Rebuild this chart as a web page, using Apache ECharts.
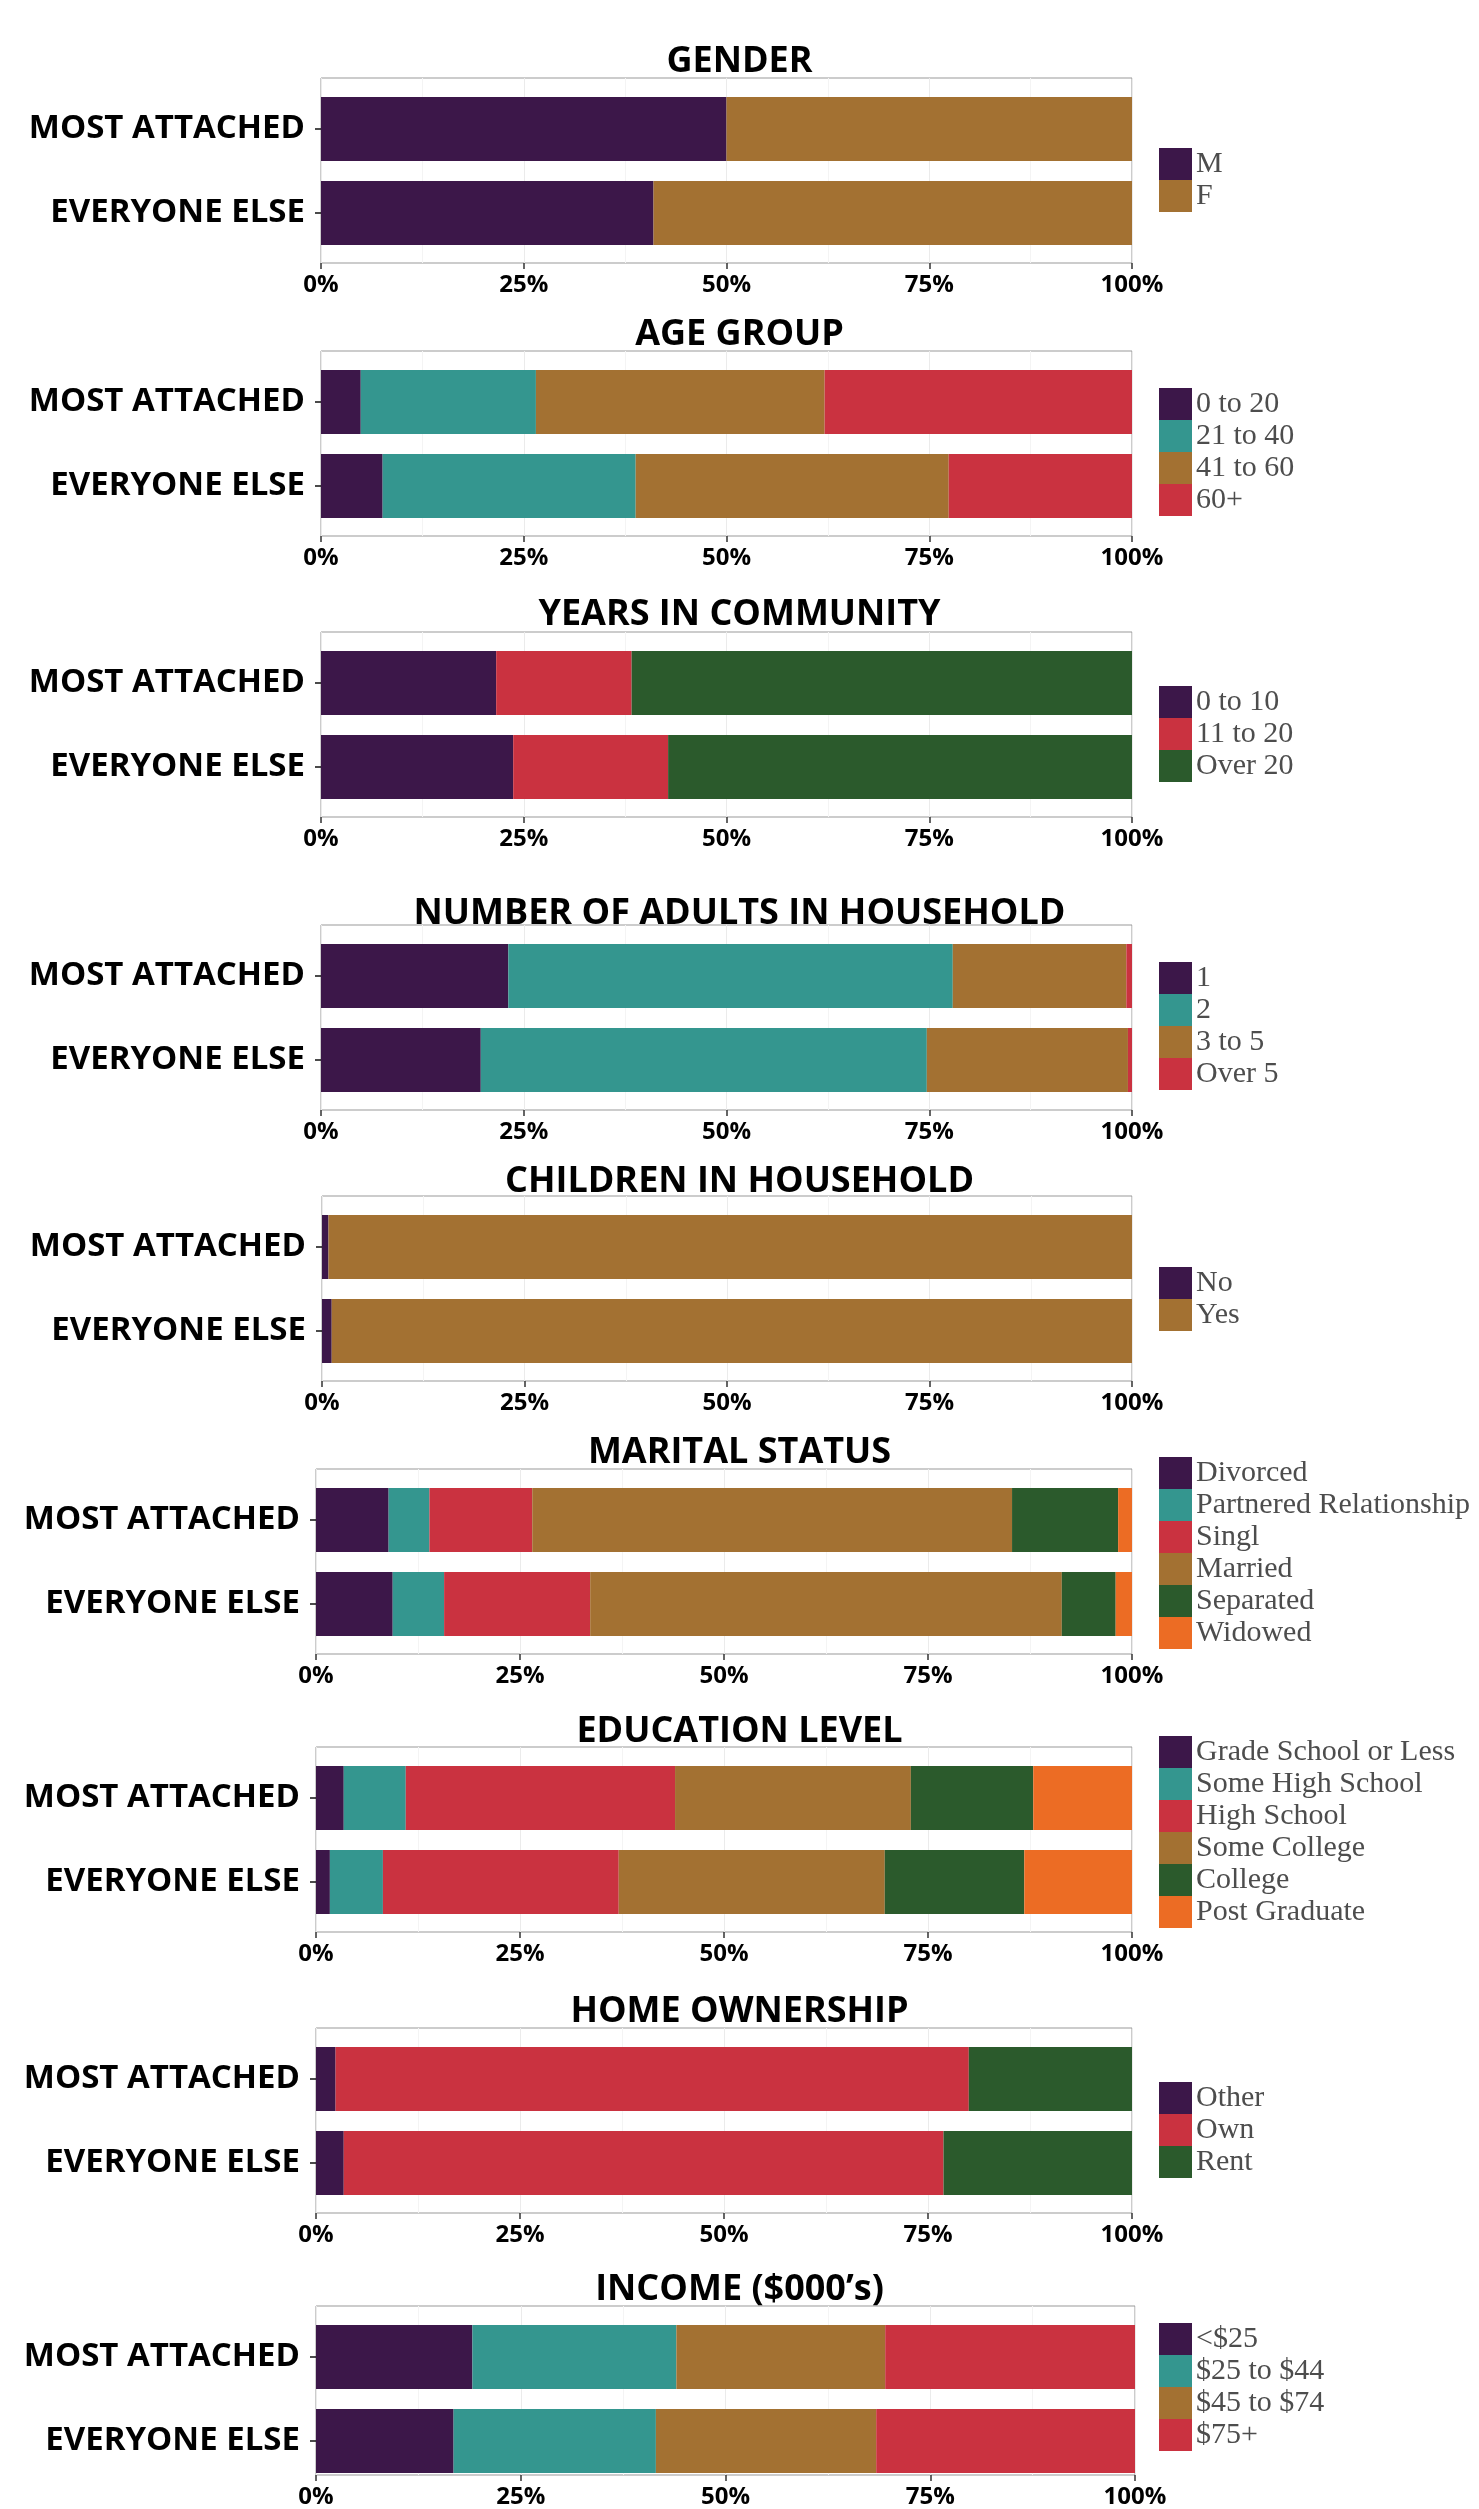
<!DOCTYPE html>
<html>
<head>
<meta charset="utf-8">
<script src="https://cdn.jsdelivr.net/npm/echarts@6/dist/echarts.min.js"></script>
<style>
  html, body { margin: 0; padding: 0; background: #ffffff; }
  #chart { width: 1479px; height: 2509px; }
</style>
</head>
<body>
<div id="chart"></div>
<script>
// Respondent groups (rows of every panel)
const groups = ['MOST ATTACHED', 'EVERYONE ELSE'];
const xTicks = [0, 25, 50, 75, 100];

// Shares (%) per panel: one array per group, in level order
const genderLevels = ['M', 'F'];
const genderMost = [50.0, 50.0];
const genderElse = [41.0, 59.0];

const ageLevels = ['0 to 20', '21 to 40', '41 to 60', '60+'];
const ageMost = [4.9, 21.6, 35.6, 37.9];
const ageElse = [7.6, 31.2, 38.6, 22.6];

const yearsLevels = ['0 to 10', '11 to 20', 'Over 20'];
const yearsMost = [21.6, 16.7, 61.7];
const yearsElse = [23.7, 19.1, 57.2];

const adultsLevels = ['1', '2', '3 to 5', 'Over 5'];
const adultsMost = [23.1, 54.8, 21.4, 0.7];
const adultsElse = [19.7, 55.0, 24.8, 0.5];

const childrenLevels = ['No', 'Yes'];
const childrenMost = [0.8, 99.2];
const childrenElse = [1.2, 98.8];

const maritalLevels = ['Divorced', 'Partnered Relationship', 'Singl', 'Married', 'Separated', 'Widowed'];
const maritalMost = [8.9, 5.0, 12.6, 58.8, 13.0, 1.7];
const maritalElse = [9.4, 6.3, 17.9, 57.8, 6.6, 2.0];

const educationLevels = ['Grade School or Less', 'Some High School', 'High School', 'Some College', 'College', 'Post Graduate'];
const educationMost = [3.4, 7.6, 33.0, 28.9, 15.0, 12.1];
const educationElse = [1.7, 6.5, 28.9, 32.6, 17.1, 13.2];

const homeLevels = ['Other', 'Own', 'Rent'];
const homeMost = [2.4, 77.6, 20.0];
const homeElse = [3.4, 73.5, 23.1];

const incomeLevels = ['<$25', '$25 to $44', '$45 to $74', '$75+'];
const incomeMost = [19.1, 24.9, 25.5, 30.5];
const incomeElse = [16.8, 24.7, 26.9, 31.6];

const panelTitles = ['GENDER', 'AGE GROUP', 'YEARS IN COMMUNITY', 'NUMBER OF ADULTS IN HOUSEHOLD',
  'CHILDREN IN HOUSEHOLD', 'MARITAL STATUS', 'EDUCATION LEVEL', 'HOME OWNERSHIP', 'INCOME ($000\u2019s)'];

// Palette
const C = {
  purple: '#3c1749', teal: '#34968f', brown: '#a37132',
  red: '#ca3240', green: '#2b5a2c', orange: '#ec6c24'
};

const panels = [
  { levels: genderLevels, most: genderMost, rest: genderElse, colors: [C.purple, C.brown] },
  { levels: ageLevels, most: ageMost, rest: ageElse, colors: [C.purple, C.teal, C.brown, C.red] },
  { levels: yearsLevels, most: yearsMost, rest: yearsElse, colors: [C.purple, C.red, C.green] },
  { levels: adultsLevels, most: adultsMost, rest: adultsElse, colors: [C.purple, C.teal, C.brown, C.red] },
  { levels: childrenLevels, most: childrenMost, rest: childrenElse, colors: [C.purple, C.brown] },
  { levels: maritalLevels, most: maritalMost, rest: maritalElse, colors: [C.purple, C.teal, C.red, C.brown, C.green, C.orange] },
  { levels: educationLevels, most: educationMost, rest: educationElse, colors: [C.purple, C.teal, C.red, C.brown, C.green, C.orange] },
  { levels: homeLevels, most: homeMost, rest: homeElse, colors: [C.purple, C.red, C.green] },
  { levels: incomeLevels, most: incomeMost, rest: incomeElse, colors: [C.purple, C.teal, C.brown, C.red] }
];

// Page layout (pixels)
const panelTop   = [78, 351, 632, 925, 1196, 1469, 1747, 2028, 2306];
const titleMid   = [60, 333, 613, 912, 1180, 1451, 1730, 2010, 2288];
const legendTop  = [148, 388, 686, 962, 1267, 1457, 1736, 2082, 2323];
const plotLeft   = [321, 321, 321, 321, 322, 316, 316, 316, 316];
const plotRight  = [1132, 1132, 1132, 1132, 1132, 1132, 1132, 1132, 1135];
const PANEL_H = 185;
const BAR_W = 64;

const SANS = '"Open Sans", "DejaVu Sans", sans-serif';
const SERIF = '"Liberation Serif", "DejaVu Serif", serif';

const title = [], grid = [], xAxis = [], yAxis = [], legend = [], series = [];

panels.forEach((p, i) => {
  const top = panelTop[i];
  const left = plotLeft[i];
  const width = plotRight[i] - plotLeft[i];

  title.push({
    text: panelTitles[i], left: 'center', top: titleMid[i] - 21,
    textStyle: { fontFamily: SANS, fontWeight: 'bold', fontSize: 36, color: '#000' }
  });

  // frame grid: panel border, grid lines, percent axis
  grid.push({ left: left, top: top, width: width, height: PANEL_H, show: true,
    borderColor: '#999999', borderWidth: 1, backgroundColor: '#ffffff' });
  // bar grid: category rows inset like a padded discrete scale
  grid.push({ left: left, top: top + 9, width: width, height: 168 });

  const fg = 2 * i, bg = 2 * i + 1;
  xAxis.push({
    gridIndex: fg, type: 'value', min: xTicks[0], max: xTicks[xTicks.length - 1], interval: 25,
    axisLine: { show: false },
    axisTick: { show: true, length: 6, lineStyle: { color: '#333', width: 1.5 } },
    axisLabel: { formatter: '{value}%', margin: 10, fontFamily: SANS, fontWeight: 'bold', fontSize: 24, color: '#000' },
    splitLine: { show: true, lineStyle: { color: '#ebebeb', width: 1 } },
    minorTick: { show: false, splitNumber: 2 },
    minorSplitLine: { show: true, lineStyle: { color: '#f4f4f4', width: 1 } }
  });
  yAxis.push({ gridIndex: fg, type: 'value', show: false });

  xAxis.push({ gridIndex: bg, type: 'value', min: 0, max: 100, show: false });
  yAxis.push({
    gridIndex: bg, type: 'category', data: groups, inverse: true,
    axisLine: { show: false },
    axisTick: { show: true, alignWithLabel: true, length: 6, lineStyle: { color: '#111', width: 1.5 } },
    axisLabel: { margin: 16, fontFamily: SANS, fontWeight: 'bold', fontSize: 33, color: '#000' },
    splitLine: { show: false }
  });

  legend.push({
    orient: 'vertical', left: 1159, top: legendTop[i], padding: 0,
    itemWidth: 33, itemHeight: 32, itemGap: 0, icon: 'rect', selectedMode: false,
    data: p.levels,
    textStyle: { fontFamily: SERIF, fontSize: 30, color: '#4d4d4d', lineHeight: 32, padding: [0, 0, 0, -1] }
  });

  p.levels.forEach((lv, j) => {
    series.push({
      type: 'bar', name: lv, stack: 'panel' + i,
      xAxisIndex: bg, yAxisIndex: bg,
      barWidth: BAR_W,
      itemStyle: { color: p.colors[j] },
      emphasis: { disabled: true },
      data: [p.most[j], p.rest[j]]
    });
  });
});

const chart = echarts.init(document.getElementById('chart'), null, { renderer: 'canvas' });
chart.setOption({
  backgroundColor: '#ffffff',
  animation: false,
  title, grid, xAxis, yAxis, legend, series
});
</script>
</body>
</html>
